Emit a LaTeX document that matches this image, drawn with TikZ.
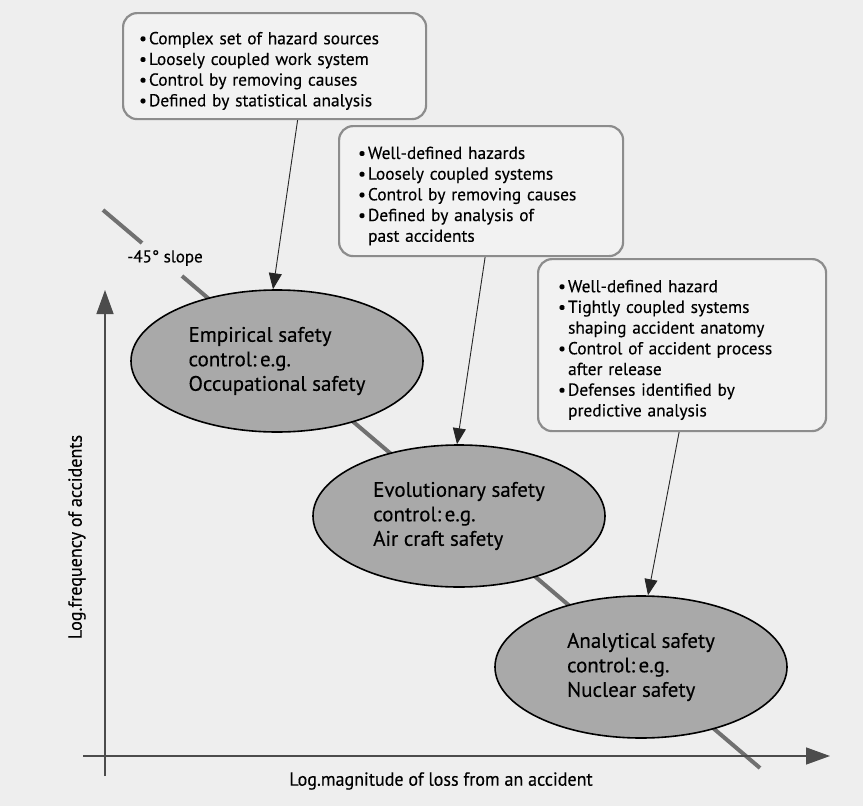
\documentclass[tikz,border=0pt]{standalone}
\usepackage{fontspec}
\setmainfont[FakeBold=0.3]{PT Sans}
\newfontfamily\condfont[FakeStretch=0.95,FakeBold=0.3]{PT Sans}
\usetikzlibrary{arrows.meta,shapes.geometric}
\definecolor{bg}{HTML}{EEEEEE}
\definecolor{boxfill}{HTML}{F2F2F2}
\definecolor{boxline}{HTML}{8C8C8C}
\definecolor{ellfill}{HTML}{A9A9A9}
\definecolor{slopecol}{HTML}{707070}
\newcommand{\topstrut}{\rule{0pt}{22pt}}
\begin{document}
\begin{tikzpicture}[x=1pt,y=-1pt,
  infobox/.style={draw=boxline, line width=2.2pt, rounded corners=14pt, fill=boxfill,
    align=left, anchor=north west, inner ysep=0pt,
    font=\fontsize{17.4}{20.7}\selectfont},
  zone/.style={ellipse, draw=black, line width=1.6pt, fill=ellfill,
    minimum width=292pt, minimum height=142pt, inner sep=0pt, align=left,
    font=\fontsize{21}{24.5}\selectfont},
  pointer/.style={draw=black!85, line width=0.9pt, -{Triangle[length=16pt,width=13pt]}},
  axisline/.style={draw=black!70, line width=1.4pt, -{Triangle[length=24pt,width=17pt]}},
  slopeline/.style={draw=slopecol, line width=4pt},
  axislabel/.style={font=\condfont\fontsize{19}{22}\selectfont}]
\fill[bg] (0,0) rectangle (863,806);
\useasboundingbox (0,0) rectangle (863,806);

% -45 degree slope line
\coordinate (s0) at (103,210);
\coordinate (s1) at (142,243);
\coordinate (s2) at (182,276);
\coordinate (s3) at (760,768);
\draw[slopeline] (s0) -- (s1);
\draw[slopeline] (s2) -- (s3);
\node[font=\fontsize{17}{20}\selectfont] (slopelbl) at (165,258) {-45° slope};

% axes
\coordinate (yb) at (105,776);
\coordinate (yt) at (105,290);
\coordinate (xl) at (83,756);
\coordinate (xr) at (830,756);
\draw[axisline] (yb) -- (yt);
\draw[axisline] (xl) -- (xr);
\node[axislabel, rotate=90] (ylab) at (77,537) {Log.frequency of accidents};
\node[axislabel] (xlab) at (441,781) {Log.magnitude of loss from an accident};

% zones
\node[zone] (e1) at (277,361) {Empirical safety\\control:\,e.g.\\Occupational safety};
\node[zone] (e2) at (459,516) {Evolutionary safety\\control:\,e.g.\\Air craft safety};
\node[zone] (e3) at (641,667) {Analytical safety\\control:\,e.g.\\Nuclear safety};

% boxes
\node[infobox, text width=271pt, inner xsep=16pt, minimum height=106pt] (b1) at (122,12)
  {\topstrut\textbullet\hspace{2pt}Complex set of hazard sources\\
   \textbullet\hspace{2pt}Loosely coupled work system\\
   \textbullet\hspace{2pt}Control by removing causes\\
   \textbullet\hspace{2pt}Defined by statistical analysis};
\node[infobox, text width=246pt, inner xsep=19pt, minimum height=130pt] (b2) at (338,125)
  {\topstrut\textbullet\hspace{2pt}Well-defined hazards\\
   \textbullet\hspace{2pt}Loosely coupled systems\\
   \textbullet\hspace{2pt}Control by removing causes\\
   \textbullet\hspace{2pt}Defined by analysis of\\
   \hspace*{10pt}past accidents};
\node[infobox, text width=248pt, inner xsep=20pt, minimum height=172pt] (b3) at (537,258)
  {\topstrut\textbullet\hspace{2pt}Well-defined hazard\\
   \textbullet\hspace{2pt}Tightly coupled systems\\
   \hspace*{10pt}shaping accident anatomy\\
   \textbullet\hspace{2pt}Control of accident process\\
   \hspace*{10pt}after release\\
   \textbullet\hspace{2pt}Defenses identified by\\
   \hspace*{10pt}predictive analysis};

% pointers
\draw[pointer] ([xshift=23pt]b1.south) -- ([xshift=-4pt]e1.north);
\draw[pointer] ([xshift=4pt]b2.south) -- ([xshift=-2pt]e2.north);
\draw[pointer] ([xshift=-3pt]b3.south) -- ([xshift=7pt]e3.north);
\end{tikzpicture}
\end{document}
